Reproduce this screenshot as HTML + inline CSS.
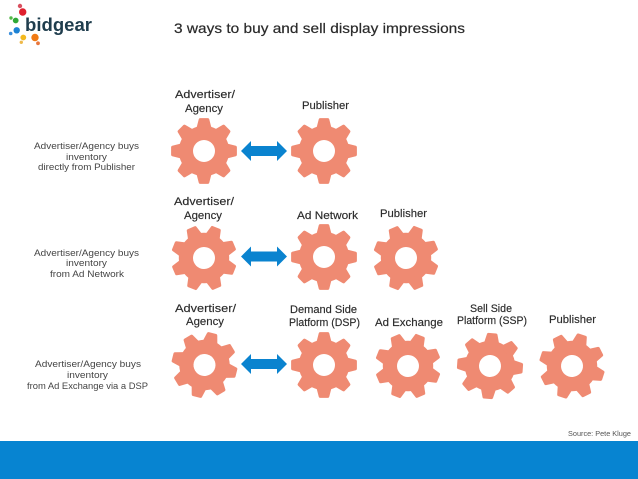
<!DOCTYPE html>
<html>
<head>
<meta charset="utf-8">
<style>
html,body{margin:0;padding:0;background:#fff}
svg{display:block}
text{font-family:"Liberation Sans",sans-serif;fill:#2a2a2a}
.h{font-size:11px;text-anchor:start;stroke:#2a2a2a;stroke-width:.15}
.l{font-size:9.5px;fill:#444}
</style>
</head>
<body>
<svg width="638" height="479" viewBox="0 0 638 479" xmlns="http://www.w3.org/2000/svg">
<defs>
<polygon id="t" points="-6.2,-22 6.2,-22 3.8,-31.4 -3.8,-31.4" fill="#ef8a72" stroke="#ef8a72" stroke-width="3" stroke-linejoin="round"/>
<g id="gear">
<circle r="25.2" fill="#ef8a72"/>
<use href="#t"/><use href="#t" transform="rotate(45)"/><use href="#t" transform="rotate(90)"/><use href="#t" transform="rotate(135)"/><use href="#t" transform="rotate(180)"/><use href="#t" transform="rotate(225)"/><use href="#t" transform="rotate(270)"/><use href="#t" transform="rotate(315)"/>
<circle r="11" fill="#fff"/>
</g>
<polygon id="arrow" points="-23,0 -13,-10 -13,-5 13,-5 13,-10 23,0 13,10 13,5 -13,5 -13,10" fill="#0a83cf"/>
</defs>

<use href="#gear" transform="translate(204 151)"/>
<use href="#gear" transform="translate(324 151)"/>
<use href="#gear" transform="translate(204 258) rotate(22)"/>
<use href="#gear" transform="translate(324 257)"/>
<use href="#gear" transform="translate(406 258) rotate(22)"/>
<use href="#gear" transform="translate(204.5 365) rotate(14)"/>
<use href="#gear" transform="translate(324 365)"/>
<use href="#gear" transform="translate(408 366) rotate(22)"/>
<use href="#gear" transform="translate(490 366) rotate(4)"/>
<use href="#gear" transform="translate(572 366) rotate(18)"/>
<use href="#arrow" transform="translate(264 151)"/>
<use href="#arrow" transform="translate(264 256.5)"/>
<use href="#arrow" transform="translate(264 364)"/>

<!-- logo -->
<circle cx="20" cy="6" r="2.2" fill="#d9505f"/>
<circle cx="22.7" cy="12" r="3.7" fill="#e0202f"/>
<circle cx="11" cy="18" r="1.7" fill="#55b848"/>
<circle cx="15.7" cy="20.5" r="2.9" fill="#2fa836"/>
<circle cx="10.7" cy="33.5" r="1.8" fill="#3b8fdc"/>
<circle cx="16.7" cy="30.3" r="3.2" fill="#1c82d4"/>
<circle cx="23.3" cy="37.5" r="2.9" fill="#f3b91f"/>
<circle cx="21.3" cy="42.3" r="1.7" fill="#eeb94a"/>
<circle cx="35" cy="37.5" r="3.7" fill="#f07a14"/>
<circle cx="38" cy="43.3" r="1.9" fill="#e8763c"/>
<text x="25" y="31" font-size="18" font-weight="bold" textLength="67" lengthAdjust="spacingAndGlyphs" style="fill:#1f3d4d">bidgear</text>

<!-- title -->
<text x="174" y="33" font-size="14" textLength="291" lengthAdjust="spacingAndGlyphs" style="stroke:#2a2a2a;stroke-width:.2">3 ways to buy and sell display impressions</text>

<!-- row 1 -->
<text class="h" x="175" y="98" textLength="60" lengthAdjust="spacingAndGlyphs">Advertiser/</text>
<text class="h" x="185" y="112" textLength="38" lengthAdjust="spacingAndGlyphs">Agency</text>
<text class="h" x="302" y="109" textLength="47" lengthAdjust="spacingAndGlyphs">Publisher</text>

<!-- row 2 -->
<text class="h" x="174" y="205" textLength="60" lengthAdjust="spacingAndGlyphs">Advertiser/</text>
<text class="h" x="184" y="219" textLength="38" lengthAdjust="spacingAndGlyphs">Agency</text>
<text class="h" x="297" y="219" textLength="61" lengthAdjust="spacingAndGlyphs">Ad Network</text>
<text class="h" x="380" y="217" textLength="47" lengthAdjust="spacingAndGlyphs">Publisher</text>

<!-- row 3 -->
<text class="h" x="175" y="312" textLength="61" lengthAdjust="spacingAndGlyphs">Advertiser/</text>
<text class="h" x="186" y="325" textLength="38" lengthAdjust="spacingAndGlyphs">Agency</text>
<text class="h" x="290" y="313" textLength="67" lengthAdjust="spacingAndGlyphs">Demand Side</text>
<text class="h" x="289" y="326" textLength="71" lengthAdjust="spacingAndGlyphs">Platform (DSP)</text>
<text class="h" x="375" y="326" textLength="68" lengthAdjust="spacingAndGlyphs">Ad Exchange</text>
<text class="h" x="470" y="312" textLength="42" lengthAdjust="spacingAndGlyphs">Sell Side</text>
<text class="h" x="457" y="324" textLength="70" lengthAdjust="spacingAndGlyphs">Platform (SSP)</text>
<text class="h" x="549" y="323" textLength="47" lengthAdjust="spacingAndGlyphs">Publisher</text>

<!-- left labels -->
<text class="l" x="34" y="149" textLength="105" lengthAdjust="spacingAndGlyphs">Advertiser/Agency buys</text>
<text class="l" x="66" y="160" textLength="41" lengthAdjust="spacingAndGlyphs">inventory</text>
<text class="l" x="38" y="170" textLength="97" lengthAdjust="spacingAndGlyphs">directly from Publisher</text>

<text class="l" x="34" y="256" textLength="105" lengthAdjust="spacingAndGlyphs">Advertiser/Agency buys</text>
<text class="l" x="66" y="266" textLength="41" lengthAdjust="spacingAndGlyphs">inventory</text>
<text class="l" x="50" y="277" textLength="74" lengthAdjust="spacingAndGlyphs">from Ad Network</text>

<text class="l" x="35" y="367" textLength="106" lengthAdjust="spacingAndGlyphs">Advertiser/Agency buys</text>
<text class="l" x="67" y="378" textLength="41" lengthAdjust="spacingAndGlyphs">inventory</text>
<text class="l" x="27" y="389" textLength="121" lengthAdjust="spacingAndGlyphs">from Ad Exchange via a DSP</text>

<text x="568" y="436" font-size="7.5" textLength="63" lengthAdjust="spacingAndGlyphs" style="fill:#555">Source: Pete Kluge</text>

<!-- footer -->
<rect x="0" y="441" width="638" height="38" fill="#0784d1"/>
</svg>
</body>
</html>
